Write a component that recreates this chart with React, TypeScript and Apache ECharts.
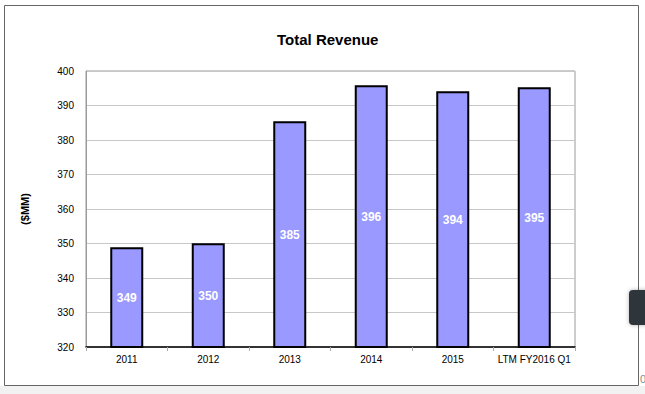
import React, { useEffect, useRef } from "react";
import * as echarts from "echarts";

const categories = ["2011", "2012", "2013", "2014", "2015", "LTM FY2016 Q1"];
const revenue = [348.9, 350.1, 385.4, 395.9, 394.1, 395.3];
const yTicks = { min: 320, max: 400, interval: 10 };

const FONT = "'Liberation Sans', Arial, Helvetica, sans-serif";

export default function App() {
  const ref = useRef<HTMLDivElement>(null);
  useEffect(() => {
    document.body.style.margin = "0";
    const chart = echarts.init(ref.current!, null, { renderer: "svg" });
    chart.setOption({
      animation: false,
      backgroundColor: "#ffffff",
      textStyle: { fontFamily: FONT },
      title: {
        text: "Total Revenue",
        left: 272,
        top: 27,
        textStyle: { fontSize: 15, fontWeight: "bold", color: "#000", fontFamily: FONT },
      },
      graphic: [
        { type: "rect", shape: { x: 0, y: 386, width: 645, height: 8 }, style: { fill: "#f2f2f2" }, z: -1 },
        {
          type: "rect",
          shape: { x: 4.5, y: 5.5, width: 634, height: 380 },
          style: { fill: "none", stroke: "#666", lineWidth: 1 },
        },
        {
          type: "rect",
          shape: { x: 629, y: 290, width: 22, height: 35, r: 4 },
          style: { fill: "#2f353b", shadowBlur: 4, shadowColor: "rgba(0,0,0,0.3)" },
        },
        {
          type: "text",
          x: 640,
          y: 373,
          style: { text: "0", fill: "#888", fontSize: 11, fontFamily: FONT },
        },
      ],
      grid: {
        left: 86,
        right: 70,
        top: 71,
        bottom: 47,
        show: true,
        borderColor: "#9a9a9a",
        borderWidth: 1,
      },
      xAxis: {
        type: "category",
        data: categories,
        axisLine: { show: true, lineStyle: { color: "#000", width: 1.5 } },
        axisTick: { show: true, alignWithLabel: false, interval: 0, length: 4, lineStyle: { color: "#aaa" } },
        axisLabel: { color: "#000", fontSize: 10, margin: 7, interval: 0, fontFamily: FONT },
      },
      yAxis: {
        type: "value",
        min: yTicks.min,
        max: yTicks.max,
        interval: yTicks.interval,
        name: "($MM)",
        nameLocation: "middle",
        nameRotate: 90,
        nameGap: 56,
        nameTextStyle: { fontSize: 11, fontWeight: "bold", color: "#000", fontFamily: FONT },
        axisLine: { show: true, lineStyle: { color: "#9a9a9a" } },
        axisTick: { show: false },
        axisLabel: { color: "#000", fontSize: 10, margin: 12, fontFamily: FONT },
        splitLine: { show: true, lineStyle: { color: "#c8c8c8", width: 1 } },
      },
      series: [
        {
          type: "bar",
          data: revenue,
          barWidth: 33,
          itemStyle: { color: "#9999ff", borderColor: "#000", borderWidth: 2 },
          label: {
            show: true,
            position: "inside",
            color: "#fff",
            fontWeight: "bold",
            fontSize: 12,
            fontFamily: FONT,
            formatter: (p: any) => String(Math.round(p.value)),
          },
        },
      ],
    });
    return () => chart.dispose();
  }, []);
  return <div ref={ref} style={{ width: 645, height: 394 }} />;
}
